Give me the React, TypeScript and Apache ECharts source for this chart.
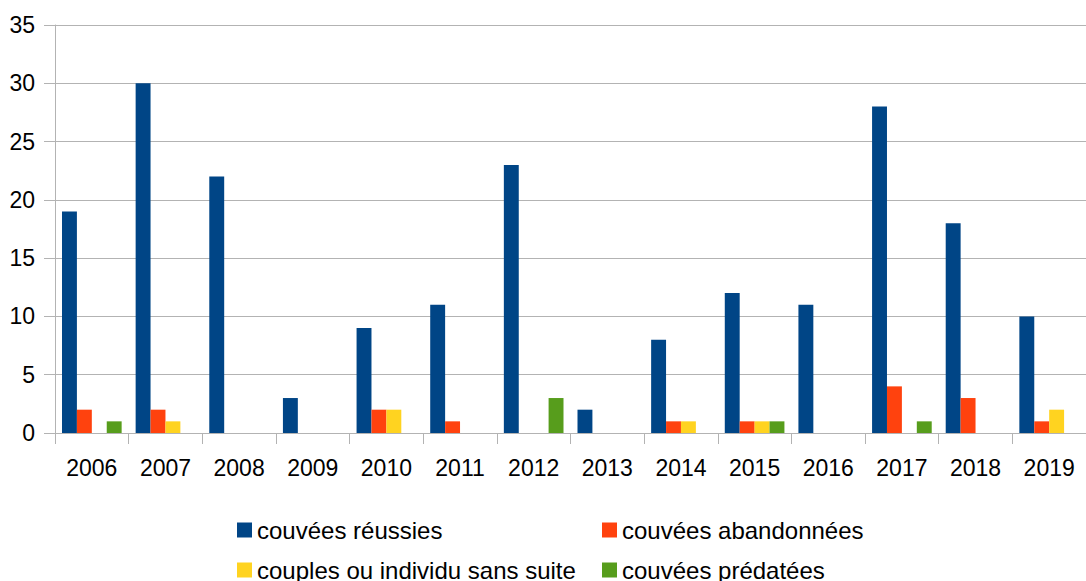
import React, { useEffect, useRef } from "react";
import * as echarts from "echarts";

const years = ["2006", "2007", "2008", "2009", "2010", "2011", "2012", "2013", "2014", "2015", "2016", "2017", "2018", "2019"];
const reussies = [19, 30, 22, 3, 9, 11, 23, 2, 8, 12, 11, 28, 18, 10];
const abandonnees = [2, 2, 0, 0, 2, 1, 0, 0, 1, 1, 0, 4, 3, 1];
const sansSuite = [0, 1, 0, 0, 2, 0, 0, 0, 1, 1, 0, 0, 0, 2];
const predatees = [1, 0, 0, 0, 0, 0, 3, 0, 0, 1, 0, 1, 0, 0];
const seriesNames = ["couvées réussies", "couvées abandonnées", "couples ou individu sans suite", "couvées prédatées"];
const colors = ["#004586", "#ff420e", "#ffd320", "#579d1c"];

export default function App() {
  const ref = useRef<HTMLDivElement>(null);
  useEffect(() => {
    const chart = echarts.init(ref.current!, null, { renderer: "svg" });
    const font = "'Liberation Sans', Arial, sans-serif";
    const values = [reussies, abandonnees, sansSuite, predatees];
    const legendPos = [
      { left: 237, top: 518 },
      { left: 602, top: 518 },
      { left: 237, top: 558 },
      { left: 602, top: 558 },
    ];
    chart.setOption({
      animation: false,
      color: colors,
      grid: { left: 55, right: -5, top: 25, bottom: 148, containLabel: false },
      legend: seriesNames.map((n, i) => ({
        data: [n],
        left: legendPos[i].left,
        top: legendPos[i].top,
        padding: 0,
        itemWidth: 15,
        itemHeight: 15,
        itemGap: 8,
        icon: "rect",
        textStyle: { fontFamily: font, fontSize: 24, color: "#000", padding: [0, 0, 0, 0] },
      })),
      xAxis: {
        type: "category",
        data: years,
        axisLine: { lineStyle: { color: "#b3b3b3", width: 1 } },
        axisTick: { show: true, length: 11, lineStyle: { color: "#b3b3b3" } },
        axisLabel: { fontFamily: font, fontSize: 23, color: "#000", margin: 23 },
      },
      yAxis: {
        type: "value",
        min: 0,
        max: 35,
        interval: 5,
        axisLine: { show: true, lineStyle: { color: "#b3b3b3" } },
        axisTick: { show: true, length: 11, lineStyle: { color: "#b3b3b3" } },
        splitLine: { lineStyle: { color: "#b3b3b3" } },
        axisLabel: { fontFamily: font, fontSize: 23, color: "#000", margin: 20 },
      },
      series: seriesNames.map((n, i) => ({
        name: n,
        type: "bar",
        data: values[i],
        barGap: "0%",
        barCategoryGap: "19%",
        itemStyle: { color: colors[i] },
      })),
    });
    return () => chart.dispose();
  }, []);
  return <div ref={ref} style={{ width: 1086, height: 581, position: "absolute", left: 0, top: 0 }} />;
}
